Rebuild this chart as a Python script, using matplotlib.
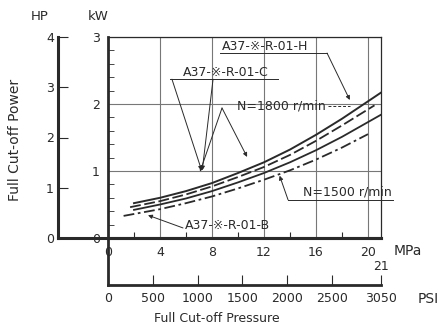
import matplotlib.pyplot as plt
from matplotlib.ticker import MultipleLocator

# axis ticks
mpa_ticks = [0, 4, 8, 12, 16, 20]
psi_ticks = [0, 500, 1000, 1500, 2000, 2500, 3050]
psi_labels = ['0', '500', '1000', '1500', '2000', '2500', '3050']
kw_ticks = [0, 1, 2, 3]
hp_ticks = [0, 1, 2, 3, 4]

# curves (MPa -> kW)
p_top = [2, 4, 6, 8, 10, 12, 14, 16, 18, 20, 21]
kw_top = [0.52, 0.60, 0.70, 0.82, 0.97, 1.13, 1.32, 1.54, 1.78, 2.04, 2.17]
p_dash = [1.7, 4, 6, 8, 10, 12, 14, 16, 18, 20.5]
kw_dash = [0.46, 0.55, 0.65, 0.77, 0.91, 1.06, 1.24, 1.45, 1.68, 1.98]
p_low = [2, 4, 6, 8, 10, 12, 14, 16, 18, 20, 21]
kw_low = [0.42, 0.50, 0.59, 0.70, 0.83, 0.97, 1.13, 1.31, 1.51, 1.73, 1.84]
p_dd = [1.2, 4, 6, 8, 10, 12, 14, 16, 18, 20]
kw_dd = [0.33, 0.43, 0.52, 0.62, 0.74, 0.87, 1.01, 1.17, 1.35, 1.55]

W, H = 439, 327
ink = '#2a2a2a'
plt.rcParams['font.family'] = ['DejaVu Sans', 'Noto Sans CJK JP']
plt.rcParams['text.color'] = ink
plt.rcParams['xtick.color'] = ink
plt.rcParams['ytick.color'] = ink


def box(x0, y0, x1, y1):
    return [x0 / W, 1 - y1 / H, (x1 - x0) / W, (y1 - y0) / H]


fig = plt.figure(figsize=(W / 100, H / 100), dpi=100)

# HP scale (outer left)
ax_hp = fig.add_axes(box(58, 37, 381, 238))
ax_hp.set_ylim(0, 4)
ax_hp.set_xlim(0, 1)
ax_hp.set_yticks(hp_ticks)
ax_hp.set_xticks([])
ax_hp.tick_params(axis='y', direction='in', length=7, width=0.8, pad=3, labelsize=9)
for s in ['top', 'right']:
    ax_hp.spines[s].set_visible(False)
for s in ['left', 'bottom']:
    ax_hp.spines[s].set_linewidth(2.2)
    ax_hp.spines[s].set_color(ink)

# main kW / MPa
ax = fig.add_axes(box(108, 37, 381, 238))
ax.patch.set_alpha(0)
ax.set_xlim(0, 21)
ax.set_ylim(0, 3)
ax.set_xticks(mpa_ticks)
ax.set_yticks(kw_ticks)
ax.xaxis.set_minor_locator(MultipleLocator(2))
ax.yaxis.set_minor_locator(MultipleLocator(0.2))
ax.tick_params(axis='x', which='major', length=0, pad=6, labelsize=9)
ax.tick_params(axis='x', which='minor', direction='in', length=4, width=0.8)
ax.tick_params(axis='y', which='major', direction='in', length=0, pad=6, labelsize=9)
ax.tick_params(axis='y', which='minor', direction='in', length=4, width=0.6)
ax.grid(True, which='major', color='#777777', lw=0.8)
ax.spines['left'].set_linewidth(2.0)
ax.spines['bottom'].set_linewidth(2.2)
for s in ['top', 'right']:
    ax.spines[s].set_linewidth(0.9)
for s in ax.spines.values():
    s.set_color(ink)

ax.plot(p_top, kw_top, color=ink, lw=1.4)
ax.plot(p_dash, kw_dash, color=ink, lw=1.3, ls=(0, (6, 2)))
ax.plot(p_low, kw_low, color=ink, lw=1.3)
ax.plot(p_dd, kw_dd, color=ink, lw=1.3, ls=(0, (6, 2, 1.5, 2)))

arw = dict(arrowstyle='-|>', color=ink, lw=0.7, mutation_scale=6, shrinkA=0, shrinkB=0)
thin = dict(color=ink, lw=0.7)

# A37-H
ax.text(8.77, 2.86, 'A37-※-R-01-H', fontsize=9, va='center')
ax.plot([8.6, 16.85], [2.76, 2.76], **thin)
ax.annotate('', xy=(18.6, 2.06), xytext=(16.85, 2.76), arrowprops=arw)

# A37-C
ax.text(5.77, 2.47, 'A37-※-R-01-C', fontsize=9, va='center')
ax.plot([4.77, 13.1], [2.37, 2.37], **thin)
ax.annotate('', xy=(7.2, 1.01), xytext=(4.92, 2.37), arrowprops=arw)
ax.annotate('', xy=(7.25, 1.01), xytext=(8.08, 2.37), arrowprops=arw)

# N=1800
ax.text(9.95, 1.97, 'N=1800 r/min', fontsize=9, va='center')
ax.plot([16.9, 18.6], [1.97, 1.97], color=ink, lw=0.7, ls=(0, (3, 2)))
ax.annotate('', xy=(7.08, 0.99), xytext=(8.77, 1.94), arrowprops=arw)
ax.annotate('', xy=(10.7, 1.21), xytext=(8.77, 1.94), arrowprops=arw)

# N=1500
ax.text(15.0, 0.69, 'N=1500 r/min', fontsize=9, va='center')
ax.plot([13.85, 21.9], [0.57, 0.57], clip_on=False, **thin)
ax.annotate('', xy=(13.2, 0.93), xytext=(13.85, 0.57), arrowprops=arw)

# A37-B
ax.text(5.92, 0.19, 'A37-※-R-01-B', fontsize=9, va='center')
ax.annotate('', xy=(3.08, 0.34), xytext=(5.77, 0.15), arrowprops=arw)

ax.text(21, -0.43, '21', fontsize=9, ha='center', va='center')
ax.text(22.0, -0.2, 'MPa', fontsize=10, ha='left', va='center')

# PSI scale
ax_psi = fig.add_axes(box(108, 238, 381, 285))
ax_psi.patch.set_alpha(0)
ax_psi.set_xlim(0, 3045)
ax_psi.set_xticks(psi_ticks)
ax_psi.set_xticklabels(psi_labels)
ax_psi.set_yticks([])
ax_psi.tick_params(axis='x', direction='in', length=7, width=0.8, pad=5, labelsize=9)
for s in ['top', 'right']:
    ax_psi.spines[s].set_visible(False)
for s in ['left', 'bottom']:
    ax_psi.spines[s].set_linewidth(2.0)
    ax_psi.spines[s].set_color(ink)

fig.text(418 / W, 1 - 299 / H, 'PSI', fontsize=10, ha='left', va='center')
fig.text(40 / W, 1 - 17 / H, 'HP', fontsize=9.5, ha='center', va='center')
fig.text(98 / W, 1 - 17 / H, 'kW', fontsize=9.5, ha='center', va='center')
fig.text(15 / W, 1 - 140 / H, 'Full Cut-off Power', fontsize=10, rotation=90,
         ha='center', va='center')
fig.text(217 / W, 1 - 318 / H, 'Full Cut-off Pressure', fontsize=9,
         ha='center', va='center')

fig.savefig('out.png', dpi=100)
